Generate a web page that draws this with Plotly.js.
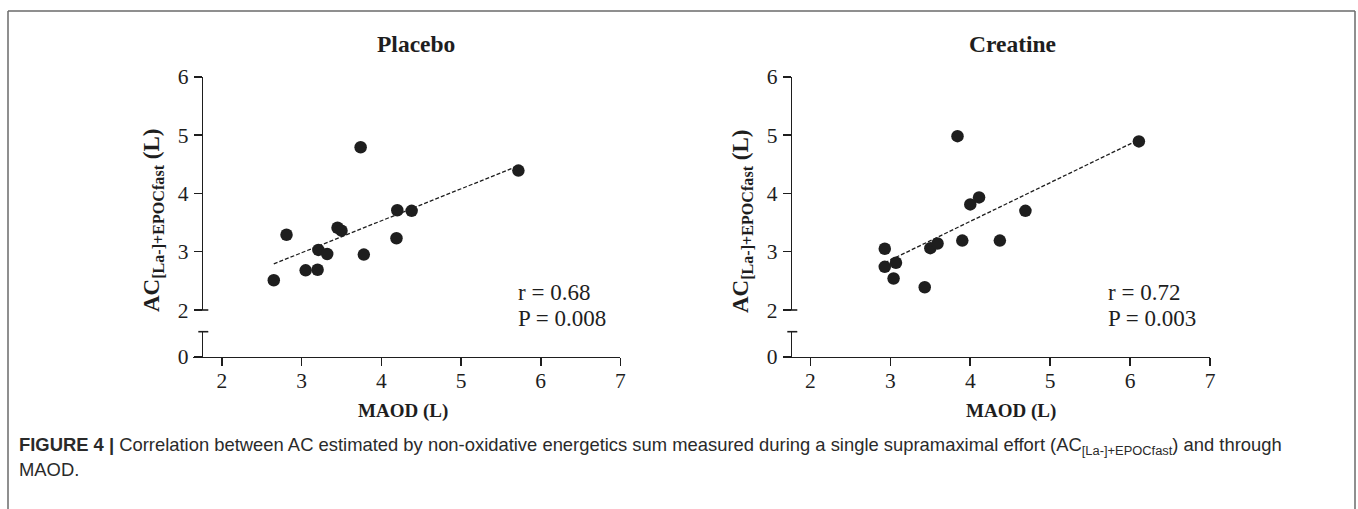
<!DOCTYPE html>
<html>
<head>
<meta charset="utf-8">
<script src="https://cdn.plot.ly/plotly-3.0.1.min.js"></script>
<style>html,body{margin:0;padding:0;background:#fff;}#chart{width:1358px;height:509px;}</style>
</head>
<body>
<div id="chart"></div>
<script>
// ---- data ----
const panelTitles = ["Placebo", "Creatine"];
const placeboX = [2.65, 2.81, 3.05, 3.20, 3.21, 3.32, 3.45, 3.50, 3.74, 3.78, 4.19, 4.20, 4.38, 5.72];
const placeboY = [2.51, 3.29, 2.68, 2.69, 3.03, 2.96, 3.41, 3.36, 4.79, 2.95, 3.23, 3.71, 3.70, 4.39];
const creatineX = [2.93, 2.93, 3.04, 3.07, 3.43, 3.50, 3.59, 3.84, 3.90, 4.00, 4.11, 4.37, 4.69, 6.11];
const creatineY = [3.05, 2.74, 2.54, 2.81, 2.39, 3.06, 3.14, 4.98, 3.19, 3.81, 3.93, 3.19, 3.70, 4.89];
const placeboFitX = [2.65, 5.68];
const placeboFitY = [2.79, 4.45];
const creatineFitX = [2.93, 6.08];
const creatineFitY = [2.81, 4.90];
const statsR = ["r = 0.68", "r = 0.72"];
const statsP = ["P = 0.008", "P = 0.003"];
const xTicks = [2, 3, 4, 5, 6, 7];
const yTicksUpper = [2, 3, 4, 5, 6];
const yTicksLower = [0];
const xTitle = "MAOD (L)";
const yTitle = "AC<sub>[La-]+EPOCfast</sub> (L)";
const captionLine1 = "<b>FIGURE 4 |</b> Correlation between AC estimated by non-oxidative energetics sum measured during a single supramaximal effort (AC<sub>[La-]+EPOCfast</sub>) and through";
const captionLine2 = "MAOD.";

// ---- layout geometry (pixels) ----
const W = 1358, H = 509;
const px = v => v / W;
const py = v => 1 - v / H;
const ink = "#1e1e1e";
const serif = "Liberation Serif, Times New Roman, serif";
const sans = "Liberation Sans, Arial, sans-serif";

const panels = [
  {yAxisX: 201.7, xStart: 193.3, xEnd: 620.4, xr: [1.64, 7.0], titleX: 416, xTitleX: 403, yTitleX: 153, statX: 516},
  {yAxisX: 790.7, xStart: 783.3, xEnd: 1210, xr: [1.66, 7.0], titleX: 1012, xTitleX: 1011, yTitleX: 742, statX: 1106}
];
const yTop = 76.7, yBreakUp = 310, yBreakLow = 331.7, yBottom = 356.7;

function axisBase() {
  return {showline: true, linecolor: ink, linewidth: 1.6, ticks: "outside", ticklen: 8, tickwidth: 1.6, tickcolor: ink,
    showgrid: false, zeroline: false, fixedrange: true, tickfont: {family: serif, size: 21.5, color: ink}};
}

const layout = {
  width: W, height: H, margin: {l: 0, r: 0, t: 0, b: 0},
  paper_bgcolor: "#fff", plot_bgcolor: "rgba(0,0,0,0)", showlegend: false,
  font: {family: serif, color: ink},
  annotations: [], shapes: []
};

const data = [];
const sets = [[placeboX, placeboY, placeboFitX, placeboFitY], [creatineX, creatineY, creatineFitX, creatineFitY]];

panels.forEach((p, i) => {
  const xa = i === 0 ? "xaxis" : "xaxis2";
  const ya = i === 0 ? "yaxis" : "yaxis2";
  const yl = i === 0 ? "yaxis3" : "yaxis4";
  const xid = i === 0 ? "x" : "x2";
  const yid = i === 0 ? "y" : "y2";
  const ylid = i === 0 ? "y3" : "y4";
  layout[xa] = Object.assign(axisBase(), {domain: [px(p.xStart), px(p.xEnd)], range: p.xr, tickvals: xTicks,
    anchor: "free", position: py(yBottom), ticklabelstandoff: -4});
  layout[ya] = Object.assign(axisBase(), {domain: [py(yBreakUp), py(yTop)], range: [2, 6], tickvals: yTicksUpper,
    anchor: "free", position: px(p.yAxisX), ticklabelstandoff: 1});
  layout[yl] = Object.assign(axisBase(), {domain: [py(yBottom), py(yBreakLow)], range: [0, 1], tickvals: yTicksLower,
    anchor: "free", position: px(p.yAxisX), ticklabelstandoff: 1});

  const s = sets[i];
  // empty trace so the lower (broken) axis segment is in use
  data.push({x: [], y: [], xaxis: xid, yaxis: ylid, mode: "markers", type: "scatter", hoverinfo: "skip"});
  data.push({x: s[2], y: s[3], xaxis: xid, yaxis: yid, mode: "lines", type: "scatter",
    line: {color: ink, width: 1.3, dash: "4px,2px"}, hoverinfo: "skip"});
  data.push({x: s[0], y: s[1], xaxis: xid, yaxis: yid, mode: "markers", type: "scatter",
    marker: {color: ink, size: 12.5, line: {width: 0}}, cliponaxis: false});

  // axis-break caps
  layout.shapes.push({type: "line", xref: "paper", yref: "paper", x0: px(p.yAxisX), x1: px(p.yAxisX + 6.6),
    y0: py(yBreakUp), y1: py(yBreakUp), line: {color: ink, width: 1.6}});
  layout.shapes.push({type: "line", xref: "paper", yref: "paper", x0: px(p.yAxisX - 3.4), x1: px(p.yAxisX + 6.6),
    y0: py(yBreakLow), y1: py(yBreakLow), line: {color: ink, width: 1.6}});

  layout.annotations.push({text: "<b>" + panelTitles[i] + "</b>", xref: "paper", yref: "paper", x: px(p.titleX), y: py(44),
    xanchor: "center", yanchor: "middle", showarrow: false, font: {family: serif, size: 23.5, color: ink}});
  layout.annotations.push({text: "<b>" + xTitle + "</b>", xref: "paper", yref: "paper", x: px(p.xTitleX), y: py(411),
    xanchor: "center", yanchor: "middle", showarrow: false, font: {family: serif, size: 19, color: ink}});
  layout.annotations.push({text: "<b>" + yTitle + "</b>", xref: "paper", yref: "paper", x: px(p.yTitleX), y: py(221),
    xanchor: "center", yanchor: "middle", textangle: -90, showarrow: false, font: {family: serif, size: 23, color: ink}});
  layout.annotations.push({text: statsR[i], xref: "paper", yref: "paper", x: px(p.statX), y: py(292),
    xanchor: "left", yanchor: "middle", showarrow: false, font: {family: serif, size: 23, color: ink}});
  layout.annotations.push({text: statsP[i], xref: "paper", yref: "paper", x: px(p.statX), y: py(318),
    xanchor: "left", yanchor: "middle", showarrow: false, font: {family: serif, size: 23, color: ink}});
});

// caption
layout.annotations.push({text: captionLine1, xref: "paper", yref: "paper", x: px(17), y: py(446),
  xanchor: "left", yanchor: "middle", showarrow: false, font: {family: sans, size: 18.4, color: "#2a2a2a"}});
layout.annotations.push({text: captionLine2, xref: "paper", yref: "paper", x: px(17), y: py(469),
  xanchor: "left", yanchor: "middle", showarrow: false, font: {family: sans, size: 18.4, color: "#2a2a2a"}});

// frame
const frameCol = "#6a6a6a";
layout.shapes.push({type: "line", xref: "paper", yref: "paper", x0: px(8), x1: px(1355), y0: py(11), y1: py(11), line: {color: frameCol, width: 1.5}});
layout.shapes.push({type: "line", xref: "paper", yref: "paper", x0: px(8), x1: px(8), y0: py(11), y1: 0, line: {color: frameCol, width: 1.5}});
layout.shapes.push({type: "line", xref: "paper", yref: "paper", x0: px(1355), x1: px(1355), y0: py(11), y1: 0, line: {color: frameCol, width: 1.5}});

Plotly.newPlot("chart", data, layout, {staticPlot: true, displayModeBar: false});
</script>
</body>
</html>
